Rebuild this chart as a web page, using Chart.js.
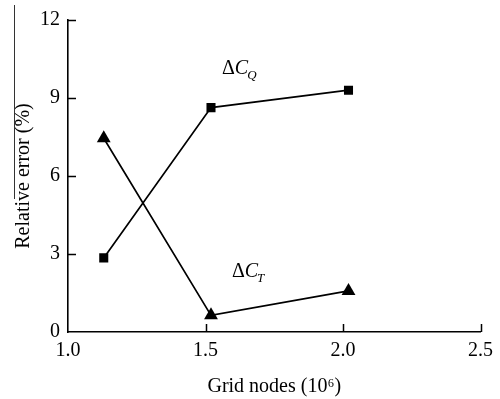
<!DOCTYPE html>
<html>
<head>
<meta charset="utf-8">
<script src="https://cdn.jsdelivr.net/npm/chart.js@4/dist/chart.umd.min.js"></script>
<style>
  html, body { margin: 0; padding: 0; background: #fff; }
  #wrap { width: 500px; height: 399px; }
</style>
</head>
<body>
<div id="wrap"><canvas id="chart_error"></canvas></div>
<script>
// grid nodes (10^6)
var gridNodes = [1.13, 1.52, 2.02];
// relative errors (%)
var errorCQ = [2.85, 8.63, 9.3];
var errorCT = [7.45, 0.64, 1.58];
var xTicks = [1.0, 1.5, 2.0, 2.5];
var yTicks = [0, 3, 6, 9, 12];

var serif = "'Liberation Serif', 'DejaVu Serif', serif";

var toPoints = function(xs, ys) {
    return xs.map(function(x, i) { return {x: x, y: ys[i]}; });
};

// inward tick marks, series labels and the stray scan line
var decorations = {
    id: 'decorations',
    afterDraw: function(chart) {
        var ctx = chart.ctx;
        var area = chart.chartArea;
        var xs = chart.scales.x, ys = chart.scales.y;
        ctx.save();
        ctx.strokeStyle = '#000';
        ctx.lineWidth = 1.5;
        ctx.beginPath();
        yTicks.forEach(function(v) {
            if (v === 0) return;
            var py = Math.round(ys.getPixelForValue(v)) + 0.5;
            ctx.moveTo(area.left, py);
            ctx.lineTo(area.left + 8, py);
        });
        xTicks.forEach(function(v) {
            if (v === 1.0) return;
            var px = Math.round(xs.getPixelForValue(v)) + 0.5;
            ctx.moveTo(px, area.bottom);
            ctx.lineTo(px, area.bottom - 8);
        });
        ctx.stroke();

        // thin line left of the y title, as in the scan
        ctx.lineWidth = 1;
        ctx.strokeStyle = '#333';
        ctx.beginPath();
        ctx.moveTo(14.5, 5);
        ctx.lineTo(14.5, 199);
        ctx.stroke();

        var label = function(x, y, sub) {
            var px = xs.getPixelForValue(x), py = ys.getPixelForValue(y);
            ctx.fillStyle = '#000';
            ctx.textBaseline = 'alphabetic';
            ctx.textAlign = 'left';
            ctx.font = '20px ' + serif;
            ctx.fillText('\u0394', px, py);
            px += ctx.measureText('\u0394').width;
            ctx.font = 'italic 20px ' + serif;
            ctx.fillText('C', px, py);
            px += ctx.measureText('C').width;
            ctx.font = 'italic 13px ' + serif;
            ctx.fillText(sub, px - 1, py + 5);
        };
        label(1.56, 9.92, 'Q');
        label(1.596, 2.1, 'T');
        ctx.restore();
    }
};

var options = {
    responsive: true,
    maintainAspectRatio: false,
    animation: false,
    layout: { padding: { top: 15, right: 19, left: 0, bottom: 0 } },
    plugins: {
        legend: { display: false },
        tooltip: { enabled: false }
    },
    scales: {
        x: {
            type: 'linear',
            min: 1.0,
            max: 2.5,
            afterFit: function(scale) { scale.height = 67; },
            afterBuildTicks: function(scale) {
                scale.ticks = xTicks.map(function(v) { return {value: v}; });
            },
            ticks: {
                color: '#000',
                padding: 7,
                font: { family: serif, size: 20 },
                callback: function(v) { return Number(v).toFixed(1); }
            },
            grid: { display: false, drawTicks: false },
            border: { display: true, color: '#000', width: 1.6 },
            title: {
                display: true,
                text: 'Grid nodes (10\u2076)',
                color: '#000',
                font: { family: serif, size: 20 },
                padding: { top: 5, bottom: 0 }
            }
        },
        y: {
            type: 'linear',
            min: 0,
            max: 12,
            afterFit: function(scale) { scale.width = 68; },
            afterBuildTicks: function(scale) {
                scale.ticks = yTicks.map(function(v) { return {value: v}; });
            },
            ticks: {
                color: '#000',
                padding: 8,
                font: { family: serif, size: 20 }
            },
            grid: { display: false, drawTicks: false },
            border: { display: true, color: '#000', width: 1.6 },
            title: {
                display: true,
                text: 'Relative error (%)',
                color: '#000',
                font: { family: serif, size: 20 },
                padding: { top: 12, bottom: 0 }
            }
        }
    }
};

var error_chart = new Chart(document.getElementById('chart_error'), {
    type: 'line',
    data: {
        datasets: [
            {
                label: '\u0394C_Q',
                data: toPoints(gridNodes, errorCQ),
                borderColor: '#000',
                backgroundColor: '#000',
                borderWidth: 1.7,
                pointStyle: 'rect',
                pointRadius: 6.4,
                pointBorderWidth: 0,
                tension: 0
            },
            {
                label: '\u0394C_T',
                data: toPoints(gridNodes, errorCT),
                borderColor: '#000',
                backgroundColor: '#000',
                borderWidth: 1.7,
                pointStyle: 'triangle',
                pointRadius: 8,
                pointBorderWidth: 0,
                tension: 0
            }
        ]
    },
    options: options,
    plugins: [decorations]
});
</script>
</body>
</html>
